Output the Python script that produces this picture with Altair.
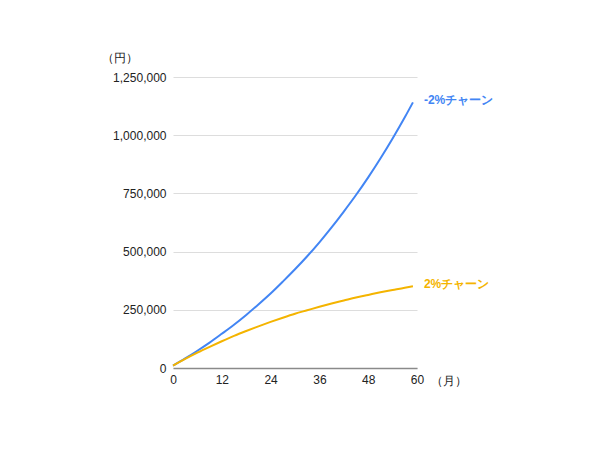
import altair as alt
import pandas as pd

months = [0, 3, 6, 9, 12, 15, 18, 21, 24, 27, 30, 33, 36, 39, 42, 45, 48, 51, 54, 57, 59]
neg_churn = [10000, 41000, 74000, 109000, 147000, 186000, 228000, 273000, 320000, 371000,
             424000, 480000, 540000, 604000, 672000, 743000, 819000, 900000, 986000, 1077000, 1141000]
pos_churn = [10000, 39000, 66000, 91000, 115000, 138000, 159000, 179000, 198000, 216000,
             233000, 248000, 263000, 277000, 290000, 303000, 314000, 325000, 335000, 345000, 351000]
series_names = ["-2%チャーン", "2%チャーン"]
line_colors = ["#4285F4", "#F4B400"]
label_colors = ["#4285F4", "#F5A42A"]
x_ticks = [0, 12, 24, 36, 48, 60]
y_ticks = [0, 250000, 500000, 750000, 1000000, 1250000]

rows = []
for m, a, b in zip(months, neg_churn, pos_churn):
    rows.append({"month": m, "value": a, "series": series_names[0]})
    rows.append({"month": m, "value": b, "series": series_names[1]})
df = pd.DataFrame(rows)
last = df[df["month"] == months[-1]]

font = "Liberation Sans"

x_enc = alt.X("month:Q", scale=alt.Scale(domain=[0, 60], nice=False),
              axis=alt.Axis(values=x_ticks, title="（月）", titleAngle=0, titleX=257, titleY=12,
                            titleAlign="left", titleBaseline="middle", titleFontWeight="normal",
                            titleFontSize=12, titleColor="#222", titleFont=font,
                            grid=False, ticks=False, domainColor="#8a8a8a", domainWidth=1.5,
                            labelFontSize=12, labelColor="#222", labelFont=font, labelPadding=6,
                            labelFlush=False))
y_enc = alt.Y("value:Q", scale=alt.Scale(domain=[0, 1250000], nice=False),
              axis=alt.Axis(values=y_ticks, format=",d", title="（円）", titleAngle=0,
                            titleX=-72, titleY=-20, titleAlign="left", titleBaseline="middle",
                            titleFontWeight="normal", titleFontSize=12, titleColor="#222",
                            titleFont=font, grid=True, gridColor="#dddddd", ticks=False,
                            domain=False, labelFontSize=12, labelColor="#222", labelFont=font,
                            labelPadding=7, labelFlush=False))
color_enc = alt.Color("series:N", scale=alt.Scale(domain=series_names, range=line_colors), legend=None)

lines = alt.Chart(df).mark_line(strokeWidth=2, interpolate="monotone").encode(
    x=x_enc, y=y_enc, color=color_enc)

labels = alt.Chart(last).mark_text(align="left", baseline="middle", dx=11, dy=-2,
                                   fontWeight="bold", fontSize=12, font=font).encode(
    x="month:Q", y="value:Q", text="series:N",
    color=alt.Color("series:N", scale=alt.Scale(domain=series_names, range=label_colors), legend=None))

chart = (lines + labels).properties(
    width=244, height=291,
    background="white",
    autosize=alt.AutoSizeParams(type="none"),
    padding={"left": 165, "top": 69, "right": 120, "bottom": 60},
).configure_view(stroke=None)

chart.save("out.html", embed_options={"renderer": "svg", "actions": False})
